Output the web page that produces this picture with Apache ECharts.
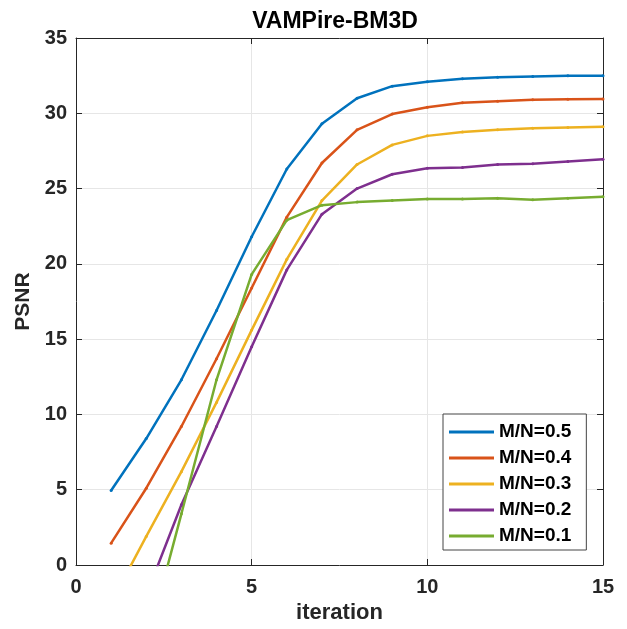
<!DOCTYPE html>
<html>
<head>
<meta charset="utf-8">
<script src="https://cdn.jsdelivr.net/npm/echarts@6/dist/echarts.min.js"></script>
<style>
html, body { margin: 0; padding: 0; background: #fff; }
#chart { width: 627px; height: 629px; }
</style>
</head>
<body>
<div id="chart"></div>
<script>
var iterations = [1, 2, 3, 4, 5, 6, 7, 8, 9, 10, 11, 12, 13, 14, 15];
var names = ['M/N=0.5', 'M/N=0.4', 'M/N=0.3', 'M/N=0.2', 'M/N=0.1'];
var colors = ['#0072BD', '#D95319', '#EDB120', '#7E2F8E', '#77AC30'];
var mn05 = [4.95, 8.4, 12.3, 16.9, 21.8, 26.3, 29.3, 31.0, 31.8, 32.1, 32.3, 32.4, 32.45, 32.5, 32.5];
var mn04 = [1.45, 5.1, 9.2, 13.7, 18.4, 23.1, 26.7, 28.9, 29.95, 30.4, 30.7, 30.8, 30.9, 30.93, 30.95];
var mn03 = [-2.5, 1.9, 6.2, 10.8, 15.6, 20.3, 24.2, 26.6, 27.9, 28.5, 28.75, 28.9, 29.0, 29.05, 29.1];
var mn02 = [-6.0, -2.0, 4.0, 9.2, 14.5, 19.6, 23.3, 25.0, 25.95, 26.35, 26.4, 26.6, 26.65, 26.8, 26.95];
var mn01 = [-12.0, -5.4, 3.4, 12.3, 19.3, 22.9, 23.9, 24.1, 24.2, 24.3, 24.3, 24.35, 24.25, 24.35, 24.45];

var allData = [mn05, mn04, mn03, mn02, mn01];
var series = [];
for (var i = 0; i < allData.length; i++) {
    series.push({
        name: names[i],
        type: 'line',
        data: iterations.map(function (x, j) { return [x, allData[i][j]]; }),
        symbol: 'circle',
        symbolSize: 3,
        lineStyle: { width: 2.5, color: colors[i] },
        itemStyle: { color: colors[i] },
        clip: true
    });
}

var font = 'Liberation Sans, Arial, sans-serif';
var dark = '#262626';
var tick = { show: true, inside: true, length: 6, lineStyle: { color: dark } };
var dom = document.getElementById('chart');
var myChart = echarts.init(dom);
var option = {
    animation: false,
    title: {
        text: 'VAMPire-BM3D',
        left: 330, top: 5, textAlign: 'center',
        textStyle: { fontFamily: font, fontSize: 23, fontWeight: 'bold', color: '#000' }
    },
    legend: {
        data: names,
        orient: 'vertical',
        left: 443, top: 414,
        padding: [8, 15, 4, 6],
        itemGap: 6,
        itemWidth: 45,
        itemHeight: 14,
        icon: 'path://M0,0 L45,0 L45,3 L0,3 Z',
        backgroundColor: '#fff',
        borderColor: '#444',
        borderWidth: 1,
        textStyle: { fontFamily: font, fontSize: 19, lineHeight: 20, fontWeight: 'bold', color: '#000' }
    },
    grid: { left: 76, top: 38, right: 24, bottom: 64, containLabel: false },
    xAxis: [
        {
            type: 'value', min: 0, max: 15, interval: 5,
            name: 'iteration', nameLocation: 'middle', nameGap: 37,
            nameTextStyle: { fontFamily: font, fontSize: 22, fontWeight: 'bold', color: dark },
            axisLine: { onZero: false, lineStyle: { color: dark, width: 1 } },
            axisTick: tick,
            axisLabel: { fontFamily: font, fontSize: 20, fontWeight: 'bold', color: dark, margin: 12 },
            splitLine: { show: true, lineStyle: { color: '#e6e6e6', width: 1 } }
        },
        {
            type: 'value', min: 0, max: 15, interval: 5, position: 'top',
            axisLine: { show: true, onZero: false, lineStyle: { color: dark, width: 1 } },
            axisTick: tick,
            axisLabel: { show: false },
            splitLine: { show: false }
        }
    ],
    yAxis: [
        {
            type: 'value', min: 0, max: 35, interval: 5,
            name: 'PSNR', nameLocation: 'middle', nameGap: 41,
            nameTextStyle: { fontFamily: font, fontSize: 21, fontWeight: 'bold', color: dark },
            axisLine: { show: true, onZero: false, lineStyle: { color: dark, width: 1 } },
            axisTick: tick,
            axisLabel: { fontFamily: font, fontSize: 20, fontWeight: 'bold', color: dark, margin: 9 },
            splitLine: { show: true, lineStyle: { color: '#e6e6e6', width: 1 } }
        },
        {
            type: 'value', min: 0, max: 35, interval: 5, position: 'right',
            axisLine: { show: true, onZero: false, lineStyle: { color: dark, width: 1 } },
            axisTick: tick,
            axisLabel: { show: false },
            splitLine: { show: false }
        }
    ],
    series: series
};
myChart.setOption(option, true);
window.onresize = myChart.resize;
</script>
</body>
</html>
